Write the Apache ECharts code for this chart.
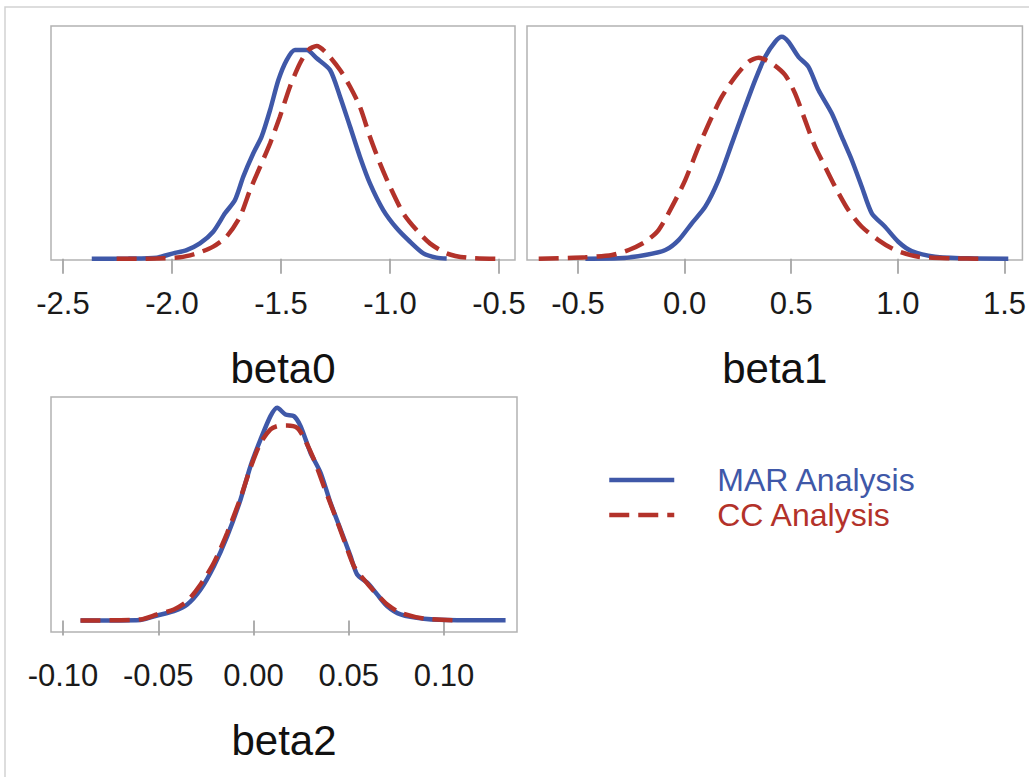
<!DOCTYPE html>
<html>
<head>
<meta charset="utf-8">
<title>Posterior densities</title>
<script src="https://cdn.jsdelivr.net/npm/echarts@6/dist/echarts.min.js"></script>
<style>
  html, body { margin: 0; padding: 0; background: #ffffff; }
  #chart { width: 1029px; height: 777px; }
</style>
</head>
<body>
<div id="chart"></div>
<script>
// Posterior density estimates, [parameter value, density]
const beta0_MAR = [[-2.368,0],[-2.20,0.002],[-2.07,0.01],[-1.994,0.047],[-1.933,0.075],[-1.872,0.132],[-1.811,0.232],[-1.757,0.389],[-1.711,0.503],[-1.673,0.702],[-1.627,0.902],[-1.589,1.044],[-1.550,1.272],[-1.512,1.528],[-1.474,1.699],[-1.436,1.785],[-1.382,1.785],[-1.336,1.714],[-1.275,1.614],[-1.229,1.386],[-1.183,1.129],[-1.138,0.873],[-1.092,0.645],[-1.031,0.417],[-0.969,0.261],[-0.908,0.146],[-0.847,0.047],[-0.787,0.01],[-0.74,0.002]];
const beta0_CC = [[-2.254,0],[-2.07,0.003],[-1.963,0.013],[-1.886,0.047],[-1.811,0.104],[-1.750,0.189],[-1.688,0.36],[-1.642,0.588],[-1.596,0.787],[-1.550,0.987],[-1.505,1.215],[-1.459,1.471],[-1.413,1.671],[-1.375,1.785],[-1.336,1.819],[-1.290,1.756],[-1.229,1.614],[-1.183,1.471],[-1.138,1.30],[-1.092,1.044],[-1.046,0.816],[-1.0,0.617],[-0.939,0.389],[-0.878,0.246],[-0.817,0.132],[-0.740,0.047],[-0.648,0.01],[-0.488,0]];

const beta1_MAR = [[-0.465,0],[-0.309,0.003],[-0.184,0.029],[-0.090,0.068],[-0.028,0.146],[0.034,0.277],[0.097,0.407],[0.159,0.615],[0.222,0.902],[0.284,1.188],[0.331,1.397],[0.378,1.579],[0.425,1.697],[0.456,1.736],[0.487,1.697],[0.534,1.579],[0.581,1.501],[0.628,1.319],[0.690,1.137],[0.737,0.954],[0.784,0.772],[0.831,0.563],[0.878,0.355],[0.940,0.250],[1.002,0.133],[1.065,0.060],[1.174,0.016],[1.330,0.003],[1.518,0]];
const beta1_CC = [[-0.684,0],[-0.465,0.011],[-0.340,0.029],[-0.262,0.068],[-0.184,0.133],[-0.122,0.224],[-0.059,0.407],[0.003,0.615],[0.066,0.876],[0.128,1.110],[0.175,1.267],[0.237,1.423],[0.300,1.540],[0.347,1.572],[0.409,1.528],[0.472,1.436],[0.518,1.293],[0.565,1.084],[0.612,0.876],[0.659,0.719],[0.706,0.563],[0.768,0.381],[0.831,0.250],[0.909,0.146],[0.987,0.068],[1.096,0.016],[1.252,0.003],[1.408,0]];

const beta2_MAR = [[-0.0908,0],[-0.0593,0.05],[-0.0506,0.46],[-0.0418,0.86],[-0.0348,1.47],[-0.0278,2.84],[-0.0208,4.97],[-0.0138,7.72],[-0.0068,11.08],[-0.0016,14.12],[0.0037,16.57],[0.0089,18.70],[0.0124,19.47],[0.0168,18.85],[0.0212,18.70],[0.0247,17.78],[0.0299,15.35],[0.0352,13.52],[0.0404,10.77],[0.0457,8.33],[0.0509,5.89],[0.0544,4.21],[0.0597,3.46],[0.0649,2.39],[0.0702,1.31],[0.0772,0.56],[0.0894,0.16],[0.107,0.03],[0.1323,0.03]];
const beta2_CC = [[-0.0908,0],[-0.0593,0.1],[-0.0506,0.56],[-0.0418,1.01],[-0.0348,1.77],[-0.0278,3.30],[-0.0208,5.28],[-0.0138,8.03],[-0.0068,11.23],[-0.0016,13.97],[0.0037,16.26],[0.0089,17.48],[0.0124,17.78],[0.0177,17.84],[0.0229,17.63],[0.0264,16.72],[0.0317,14.74],[0.0369,12.29],[0.0422,9.86],[0.0474,7.42],[0.0527,4.97],[0.0579,3.76],[0.0632,2.69],[0.0702,1.47],[0.0772,0.71],[0.0894,0.18],[0.107,0]];

// Tick values for each parameter axis
const beta0_ticks = [-2.5, -2.0, -1.5, -1.0, -0.5];
const beta1_ticks = [-0.5, 0.0, 0.5, 1.0, 1.5];
const beta2_ticks = [-0.10, -0.05, 0.00, 0.05, 0.10];

const panelNames = ['beta0', 'beta1', 'beta2'];
const seriesNames = ['MAR Analysis', 'CC Analysis'];

const BLUE = '#3F58A8';
const RED = '#B3322A';
const FONT = '"Liberation Sans", Arial, Helvetica, sans-serif';
const DASH = [20, 9];

// Panel frames and axis extents
const grids = [
  { left: 51, top: 26, width: 464, height: 234 },
  { left: 527, top: 26, width: 496, height: 234 },
  { left: 51, top: 397, width: 466, height: 235 }
];
const xRanges = [[-2.555, -0.4266], [-0.7389, 1.5843], [-0.1063, 0.1383]];
const yRanges = [[-0.01, 1.99], [-0.01, 1.82], [-1.05, 20.45]];
const tickSets = [beta0_ticks, beta1_ticks, beta2_ticks];
const decimals = [1, 1, 2];
const panelData = [[beta0_MAR, beta0_CC], [beta1_MAR, beta1_CC], [beta2_MAR, beta2_CC]];

const chart = echarts.init(document.getElementById('chart'), null, { renderer: 'svg' });

// One legend block per entry so the two rows can sit tightly together
function legendRow(name, color, dash, top) {
  return {
    left: 607, top: top, padding: 0, orient: 'vertical',
    itemWidth: 65, itemHeight: 32,
    itemStyle: { opacity: 0 },
    lineStyle: { width: 4.5, color: color, type: dash },
    data: [{ name: name, textStyle: { color: color } }],
    textStyle: { fontSize: 32, lineHeight: 32, fontFamily: FONT, padding: [0, 0, 0, 38] }
  };
}

const option = {
  backgroundColor: '#ffffff',
  animation: false,
  textStyle: { fontFamily: FONT },
  graphic: [{
    type: 'rect',
    shape: { x: 5, y: 7, width: 1100, height: 900 },
    style: { fill: 'none', stroke: '#d2d2d2', lineWidth: 1.5 },
    silent: true
  }],
  grid: grids.map(g => Object.assign({
    show: true, borderColor: '#b2b2b2', borderWidth: 1.5, backgroundColor: 'transparent'
  }, g)),
  xAxis: grids.map((g, i) => ({
    type: 'value',
    gridIndex: i,
    min: xRanges[i][0],
    max: xRanges[i][1],
    name: panelNames[i],
    nameLocation: 'middle',
    nameGap: 87,
    nameTextStyle: { fontSize: 42, color: '#111111', fontFamily: FONT },
    axisLine: { show: false },
    splitLine: { show: false },
    axisTick: {
      show: true, inside: false, length: 15, customValues: tickSets[i],
      lineStyle: { color: '#a6a6a6', width: 1.8 }
    },
    axisLabel: {
      show: true, customValues: tickSets[i], margin: 28,
      fontSize: 31, color: '#1a1a1a', fontFamily: FONT,
      formatter: v => v.toFixed(decimals[i])
    }
  })),
  yAxis: grids.map((g, i) => ({
    type: 'value', gridIndex: i, show: false,
    min: yRanges[i][0], max: yRanges[i][1],
    splitLine: { show: false }
  })),
  legend: [
    legendRow(seriesNames[0], BLUE, 'solid', 464),
    legendRow(seriesNames[1], RED, DASH, 499)
  ],
  series: []
};

panelData.forEach((pair, i) => {
  option.series.push({
    name: seriesNames[0], type: 'line', xAxisIndex: i, yAxisIndex: i,
    data: pair[0], showSymbol: false, symbol: 'none', smooth: 0.25,
    lineStyle: { color: BLUE, width: 4.5, type: 'solid' },
    itemStyle: { color: BLUE }, z: 2
  });
  option.series.push({
    name: seriesNames[1], type: 'line', xAxisIndex: i, yAxisIndex: i,
    data: pair[1], showSymbol: false, symbol: 'none', smooth: 0.25,
    lineStyle: { color: RED, width: 4.5, type: DASH },
    itemStyle: { color: RED }, z: 3
  });
});

chart.setOption(option);
</script>
</body>
</html>
